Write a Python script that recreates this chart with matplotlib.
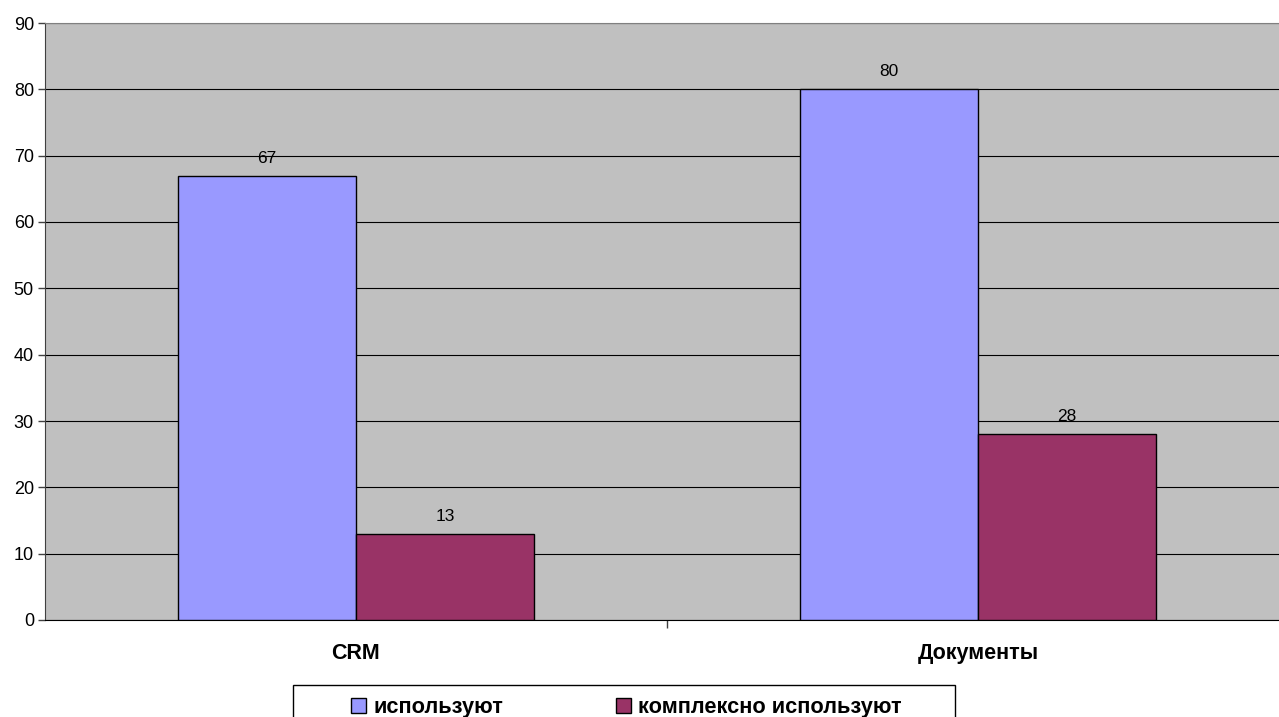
import matplotlib.pyplot as plt
from matplotlib.patches import Rectangle
import numpy as np

categories = ['CRM', 'Документы']
series_names = ['используют', 'комплексно используют']
uses = [67, 80]
complex_uses = [13, 28]
colors = ['#9999FF', '#993366']

plt.rcParams['font.family'] = ['Liberation Sans', 'DejaVu Sans']

fig = plt.figure(figsize=(12.79, 7.17), dpi=100)
ax = fig.add_axes([45 / 1279, 97 / 717, 1244 / 1279, 597 / 717])
ax.set_facecolor('#C0C0C0')

x = np.arange(len(categories))
w = 0.286
b1 = ax.bar(x - w / 2, uses, w, color=colors[0], edgecolor='black', linewidth=1, label=series_names[0], zorder=3)
b2 = ax.bar(x + w / 2, complex_uses, w, color=colors[1], edgecolor='black', linewidth=1, label=series_names[1], zorder=3)

# подписи значений
for bars in (b1, b2):
    for r in bars:
        ax.text(r.get_x() + r.get_width() / 2, r.get_height() + 1.5, '%d' % r.get_height(),
                ha='center', va='bottom', fontsize=12.5, zorder=4)

ax.set_xlim(-0.5, 1.5)
ax.set_ylim(0, 90)
ax.set_yticks(range(0, 91, 10))
ax.tick_params(axis='y', labelsize=13, length=5, width=1, direction='out', pad=3, color='#404040')
ax.set_xticks([0.5])
ax.set_xticklabels([''])
ax.tick_params(axis='x', length=6, width=1, direction='out', color='#404040')
for i, c in enumerate(categories):
    ax.text(i, -5.1, c, ha='center', va='center', fontsize=15.5, fontweight='bold')

ax.yaxis.grid(True, color='black', linewidth=0.8, zorder=1)
ax.spines['top'].set_color('#808080')
ax.spines['right'].set_visible(False)
ax.spines['left'].set_color('#404040')
ax.spines['bottom'].set_color('black')

# легенда: рамка рисуется отдельно
fig.patches.append(Rectangle((293 / 1279, -0.1), (955 - 293) / 1279, 0.1 + 32 / 717,
                             transform=fig.transFigure, fill=False, edgecolor='black', lw=1))
leg = fig.legend(handles=[b1, b2], labels=series_names, ncol=2,
                 loc='upper left', bbox_to_anchor=(351 / 1279, 1 - 697 / 717),
                 borderaxespad=0, borderpad=0, frameon=False,
                 prop={'weight': 'bold', 'size': 15.7},
                 handlelength=0.69, handleheight=0.69,
                 handletextpad=0.32, columnspacing=5.2)

plt.savefig('out.png', dpi=100)
